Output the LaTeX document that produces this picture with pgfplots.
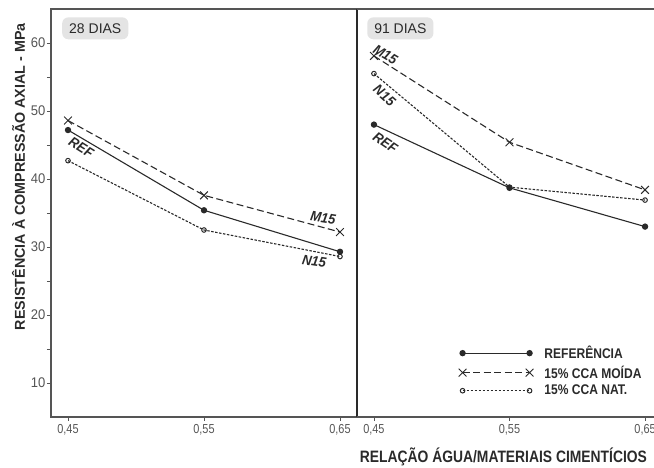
\documentclass[border=0pt]{standalone}
\usepackage{pgfplots}
\pgfplotsset{compat=1.18}
\usepackage{fontspec}
\setmainfont{Liberation Sans}
\newfontfamily\narrowA{Liberation Sans}[FakeStretch=0.84]
\newfontfamily\narrowB{Liberation Sans}[FakeStretch=0.93]
\newfontfamily\narrowC{Liberation Sans}[FakeStretch=0.86]
\definecolor{ln}{HTML}{2A2A2A}
\definecolor{ax}{HTML}{555555}
\definecolor{boxg}{HTML}{E4E4E4}
\tikzset{
  lab/.style={font=\narrowB\bfseries\itshape\fontsize{14}{14}\selectfont, text=ln, inner sep=0pt},
  sref/.style={ln, line width=1.1pt, mark=*, mark size=2.6pt, mark options={solid, fill=ln}},
  smoi/.style={ln, line width=1.1pt, dash pattern=on 7pt off 3.5pt, mark=x, mark size=5.5pt, mark options={solid, line width=1pt}},
  snat/.style={ln, line width=1.1pt, dash pattern=on 2.5pt off 1.5pt, mark=o, mark size=2.3pt, mark options={solid, fill=white, line width=1pt}},
}
\pgfplotsset{
  common/.style={
    scale only axis,
    height=408pt,
    ymin=5, ymax=65,
    xmin=0.4375,
    xtick={0.45,0.55,0.65},
    xticklabels={{0,45},{0,55},{0,65}},
    xtick pos=bottom,
    tick align=outside,
    major tick length=4pt,
    minor tick length=4pt,
    axis line style={ax, line width=1.1pt},
    every tick/.style={ax, line width=0.8pt},
    tick label style={text=ax, inner sep=1.5pt},
    yticklabel style={font=\narrowB\fontsize{14}{14}\selectfont},
    xticklabel style={font=\narrowA\fontsize{13}{13}\selectfont, yshift=-2pt},
    /pgf/number format/assume math mode=true,
    clip=false,
  },
}
\begin{document}
\begin{tikzpicture}
\path[use as bounding box] (-51pt,-51pt) rectangle (603pt,417pt);
% left panel
\begin{axis}[common,
  at={(0pt,0pt)}, anchor=south west,
  width=306pt,
  xmax=0.6625,
  ytick={10,20,30,40,50,60},
  minor ytick={15,25,35,45,55},
  ytick pos=left,
  ylabel={\bfseries RESISTÊNCIA À COMPRESSÃO AXIAL - MPa},
  ylabel style={font=\fontsize{14.3}{14.3}\selectfont, text=ln, at={(rel axis cs:-0.084,0.589)}, anchor=south, inner sep=0pt},
]
\addplot[sref] coordinates {(0.45,47.2) (0.55,35.4) (0.65,29.3)};
\addplot[smoi] coordinates {(0.45,48.6) (0.55,37.6) (0.65,32.2)};
\addplot[snat] coordinates {(0.45,42.7) (0.55,32.5) (0.65,28.6)};
\node[lab, rotate=-32] at (axis cs:0.4598,44.6) {REF};
\node[lab, rotate=-9] at (axis cs:0.6375,34.3) {M15};
\node[lab, rotate=-9] at (axis cs:0.631,27.9) {N15};
\node[fill=boxg, rounded corners=6pt, inner xsep=7pt, inner ysep=6pt, anchor=north west,
  font=\fontsize{14}{14}\selectfont, text=ln] at (rel axis cs:0.036,0.98) {28 DIAS};
\draw[ln, line width=2pt] (rel axis cs:1,0) -- (rel axis cs:1,1);
\end{axis}
% right panel
\begin{axis}[common,
  at={(306pt,0pt)}, anchor=south west,
  width=297pt,
  xmax=0.6566,
  hide y axis,
  legend style={draw=none, fill=none, at={(rel axis cs:0.335,0.184)}, anchor=north west,
    font=\narrowC\bfseries\fontsize{14}{14}\selectfont, text=ln, row sep=1.5pt, inner sep=2pt,
    /tikz/every odd column/.append style={column sep=9pt}},
  legend cell align=left,
  legend image code/.code={\draw[#1] plot coordinates {(0pt,0pt) (67pt,0pt)};},
  xlabel={\bfseries RELAÇÃO ÁGUA/MATERIAIS CIMENTÍCIOS},
  xlabel style={font=\narrowA\fontsize{16.5}{16.5}\selectfont, text=ln, at={(rel axis cs:0.493,-0.068)}, anchor=north},
]
\addplot[sref] coordinates {(0.45,48.0) (0.55,38.7) (0.65,33.0)};
\addlegendentry{REFERÊNCIA}
\addplot[smoi] coordinates {(0.45,58.1) (0.55,45.4) (0.65,38.4)};
\addlegendentry{15\% CCA MOÍDA}
\addplot[snat] coordinates {(0.45,55.5) (0.55,38.8) (0.65,36.9)};
\addlegendentry{15\% CCA NAT.}
\node[lab, rotate=-31] at (axis cs:0.4585,58.3) {M15};
\node[lab, rotate=-42] at (axis cs:0.4578,52.3) {N15};
\node[lab, rotate=-34] at (axis cs:0.4585,45.3) {REF};
\node[fill=boxg, rounded corners=6pt, inner xsep=7pt, inner ysep=6pt, anchor=north west,
  font=\fontsize{14}{14}\selectfont, text=ln] at (rel axis cs:0.034,0.98) {91 DIAS};
\end{axis}
\end{tikzpicture}
\end{document}
